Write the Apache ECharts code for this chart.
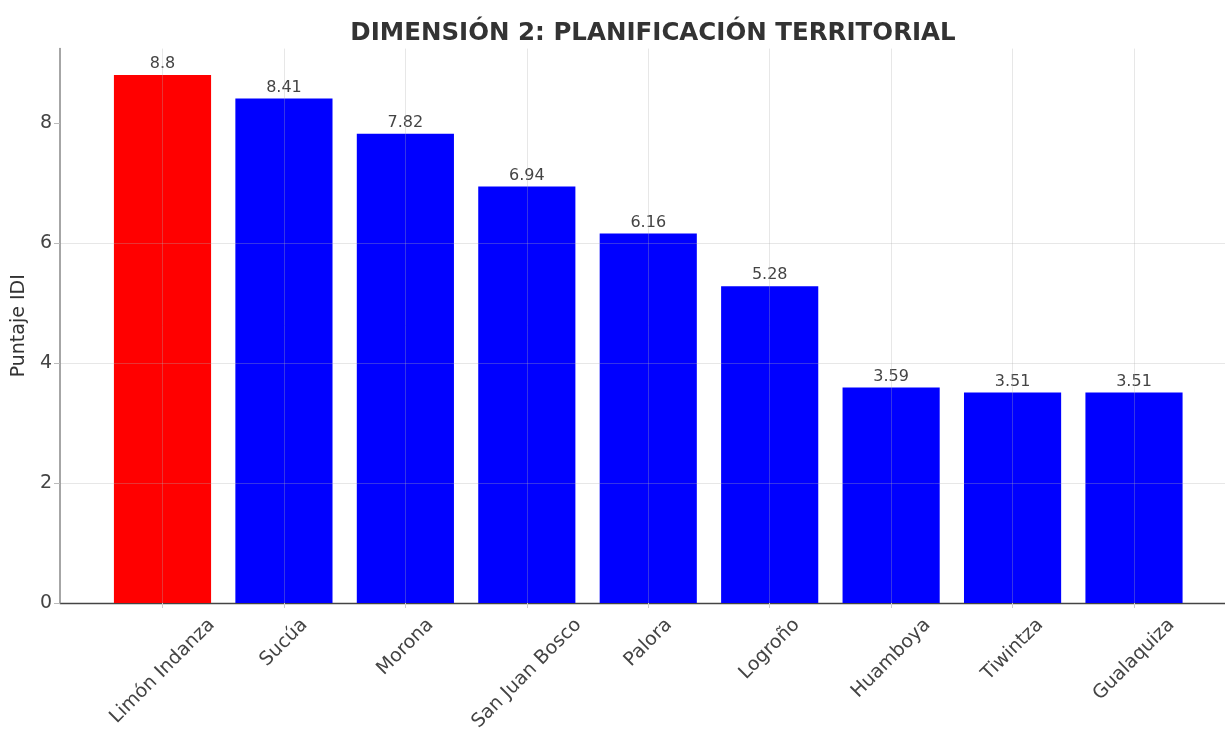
<!DOCTYPE html>
<html>
<head>
<meta charset="utf-8">
<script src="https://cdn.jsdelivr.net/npm/echarts@6/dist/echarts.min.js"></script>
<style>
html,body{margin:0;padding:0;background:#ffffff;}
#chart{width:1225px;height:731px;}
</style>
</head>
<body>
<div id="chart"></div>
<script>
const categories = ['Limón Indanza', 'Sucúa', 'Morona', 'San Juan Bosco', 'Palora', 'Logroño', 'Huamboya', 'Tiwintza', 'Gualaquiza'];
const scores = [8.8, 8.41, 7.82, 6.94, 6.16, 5.28, 3.59, 3.51, 3.51];
const barColors = ['#ff0000', '#0000ff', '#0000ff', '#0000ff', '#0000ff', '#0000ff', '#0000ff', '#0000ff', '#0000ff'];
const yTicks = [0, 2, 4, 6, 8];
const yMax = 9.24;
const titleText = 'DIMENSIÓN 2: PLANIFICACIÓN TERRITORIAL';
const yName = 'Puntaje IDI';

const FONT = 'DejaVu Sans';
const CAT_SIZE = 19;
const gridColor = 'rgba(176,176,176,0.3)';

// per-label padding so each rotated label is centred under its tick (matplotlib style)
const mctx = document.createElement('canvas').getContext('2d');
mctx.font = CAT_SIZE + 'px "' + FONT + '"';
const rich = {};
categories.forEach(function (c, i) {
  const L = mctx.measureText(c).width;
  rich['c' + i] = {
    fontFamily: FONT, fontSize: CAT_SIZE, color: '#444',
    padding: [L / 2, L / 2, 0, 0]
  };
});

const chart = echarts.init(document.getElementById('chart'), null, {renderer: 'canvas'});
const topPx = 48.6, bottomPx = 128;

chart.setOption({
  animation: false,
  backgroundColor: '#ffffff',
  title: {
    text: titleText,
    left: 648,
    textAlign: 'center',
    top: 16,
    textStyle: {fontFamily: FONT, fontSize: 24.5, fontWeight: 'bold', color: '#333333'}
  },
  grid: [
    {left: 60, right: -11, top: topPx, bottom: bottomPx, containLabel: false, outerBoundsMode: 'none'},
    {left: 162.5, right: 91, top: topPx, bottom: bottomPx, containLabel: false, outerBoundsMode: 'none'}
  ],
  xAxis: [
    {
      gridIndex: 0, type: 'value', min: 0, max: 1,
      axisLine: {show: true, onZero: false, lineStyle: {color: '#444444', width: 1.3}},
      axisTick: {show: false}, axisLabel: {show: false}, splitLine: {show: false}
    },
    {
      gridIndex: 1, type: 'category', data: categories, boundaryGap: false, z: 3,
      axisLine: {show: false},
      axisTick: {show: true, length: 5, lineStyle: {color: '#cccccc'}},
      axisLabel: {
        interval: 0, rotate: 45, align: 'center', verticalAlign: 'middle', margin: 19,
        formatter: function (v, i) { return '{c' + i + '|' + v + '}'; },
        rich: rich
      },
      splitLine: {show: true, lineStyle: {color: gridColor, width: 1}}
    }
  ],
  yAxis: [
    {
      gridIndex: 0, type: 'value', min: 0, max: yMax, interval: 2, z: 3,
      name: yName, nameLocation: 'middle', nameGap: 29, nameRotate: 90,
      nameTextStyle: {fontFamily: FONT, fontSize: 19, color: '#333333'},
      axisLine: {show: true, lineStyle: {color: '#888888', width: 1.5}},
      axisTick: {show: true, length: 6, customValues: yTicks, lineStyle: {color: '#bbbbbb'}},
      axisLabel: {customValues: yTicks, fontFamily: FONT, fontSize: 19, color: '#444444', margin: 8},
      splitLine: {show: true, showMinLine: false, showMaxLine: false, lineStyle: {color: gridColor, width: 1}}
    },
    {
      gridIndex: 1, type: 'value', min: 0, max: yMax, show: false
    }
  ],
  series: [{
    type: 'bar',
    xAxisIndex: 1, yAxisIndex: 1,
    barWidth: '80%',
    data: scores.map(function (v, i) { return {value: v, itemStyle: {color: barColors[i]}}; }),
    label: {
      show: true, position: 'top', distance: 3,
      fontFamily: FONT, fontSize: 16, color: '#444444'
    }
  }]
});
</script>
</body>
</html>
